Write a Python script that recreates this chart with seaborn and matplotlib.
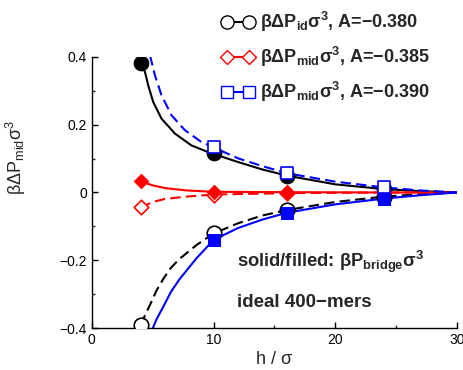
import numpy as np
import pandas as pd
import seaborn as sns
import matplotlib
import matplotlib.pyplot as plt
from matplotlib.lines import Line2D
from matplotlib.ticker import MultipleLocator, FuncFormatter

# Data
h_pts = [4, 10, 16, 24]
h_blue = [10, 16, 24]

bridge_380 = [0.382, 0.116, 0.050, 0.011]      # black filled
dp_id_380 = [-0.39, -0.121, -0.052, -0.012]    # black open
bridge_385 = [0.033, 0.002, 0.001, 0.0]        # red filled
dp_mid_385 = [-0.044, -0.006, -0.002, 0.0]     # red open
dp_mid_390 = [0.133, 0.057, 0.015]             # blue open
bridge_390 = [-0.140, -0.060, -0.018]          # blue filled

# smooth curves (read at several h)
h_k_solid = [4, 4.36, 4.63, 5.04, 5.72, 6.82, 8.18, 9.56, 12, 14, 16, 20, 24, 27, 30]
k_solid = [0.382, 0.356, 0.316, 0.267, 0.218, 0.174, 0.139, 0.119, 0.090, 0.068, 0.050, 0.024, 0.010, 0.004, 0.0]
h_k_dash = [4, 4.4, 4.8, 5.3, 5.9, 6.5, 7.2, 8.6, 10, 12, 14, 16, 20, 24, 27, 30]
k_dash = [-0.39, -0.36, -0.33, -0.29, -0.253, -0.222, -0.196, -0.155, -0.121, -0.091, -0.068, -0.052, -0.028, -0.012, -0.005, 0.0]
h_b_dash = [4.77, 5.18, 5.72, 6.54, 7.64, 9.0, 10, 12, 14, 16, 20, 24, 27, 30]
b_dash = [0.405, 0.346, 0.287, 0.228, 0.184, 0.149, 0.133, 0.101, 0.078, 0.057, 0.032, 0.015, 0.006, 0.0]
h_b_solid = [4.9, 5.3, 5.9, 6.5, 7.2, 8.6, 10, 12, 14, 16, 20, 24, 27, 30]
b_solid = [-0.41, -0.375, -0.335, -0.293, -0.256, -0.194, -0.140, -0.105, -0.080, -0.060, -0.035, -0.018, -0.008, 0.0]
h_r = [4, 5, 6, 7.8, 10, 13, 16, 20, 24, 30]
r_solid = [0.033, 0.021, 0.013, 0.006, 0.002, 0.0015, 0.001, 0.0005, 0.0, 0.0]
r_dash = [-0.044, -0.028, -0.019, -0.012, -0.006, -0.004, -0.002, -0.001, 0.0, 0.0]

labels = [r'βΔP$_\mathbf{id}$σ$^\mathbf{3}$, A=−0.380',
          r'βΔP$_\mathbf{mid}$σ$^\mathbf{3}$, A=−0.385',
          r'βΔP$_\mathbf{mid}$σ$^\mathbf{3}$, A=−0.390']

sns.set_style('ticks')
plt.rcParams['font.family'] = ['Liberation Sans', 'DejaVu Sans']
plt.rcParams['mathtext.fontset'] = 'custom'
plt.rcParams['mathtext.rm'] = 'Liberation Sans'
plt.rcParams['mathtext.it'] = 'Liberation Sans:italic'
plt.rcParams['mathtext.bf'] = 'Liberation Sans:bold'
plt.rcParams['axes.unicode_minus'] = True

fig = plt.figure(figsize=(4.64, 3.70), dpi=100)
ax = fig.add_axes([0.198, 0.1135, 0.787, 0.7325])

lw = 1.5
dash = (0, (5, 2.5))
sns.lineplot(x=h_k_solid, y=k_solid, color='black', lw=lw, ax=ax, zorder=2)
sns.lineplot(x=h_k_dash, y=k_dash, color='black', lw=lw, ax=ax, zorder=2, linestyle=dash)
sns.lineplot(x=h_r, y=r_solid, color='red', lw=lw, ax=ax, zorder=2)
sns.lineplot(x=h_r, y=r_dash, color='red', lw=lw, ax=ax, zorder=2, linestyle=dash)
sns.lineplot(x=h_b_dash, y=b_dash, color='blue', lw=lw, ax=ax, zorder=2, linestyle=dash)
sns.lineplot(x=h_b_solid, y=b_solid, color='blue', lw=lw, ax=ax, zorder=2)

sns.scatterplot(x=h_pts, y=bridge_380, color='black', edgecolor='black', marker='o', s=110, ax=ax, zorder=3)
sns.scatterplot(x=h_pts, y=dp_id_380, color='white', edgecolor='black', linewidth=1.2, marker='o', s=110, ax=ax, zorder=3)
sns.scatterplot(x=h_pts, y=dp_mid_385, color='white', edgecolor='red', linewidth=1.2, marker='D', s=55, ax=ax, zorder=3)
sns.scatterplot(x=h_pts, y=bridge_385, color='red', edgecolor='red', marker='D', s=55, ax=ax, zorder=3)
sns.scatterplot(x=h_blue, y=bridge_390, color='blue', edgecolor='blue', marker='s', s=85, ax=ax, zorder=4)
sns.scatterplot(x=h_blue, y=dp_mid_390, color='white', edgecolor='blue', linewidth=1.2, marker='s', s=85, ax=ax, zorder=4)

ax.set_xlim(0, 30)
ax.set_ylim(-0.4, 0.4)
ax.xaxis.set_major_locator(MultipleLocator(10))
ax.xaxis.set_minor_locator(MultipleLocator(5))
ax.yaxis.set_major_locator(MultipleLocator(0.2))
ax.yaxis.set_minor_locator(MultipleLocator(0.1))
ax.yaxis.set_major_formatter(FuncFormatter(lambda v, p: '0' if abs(v) < 1e-9 else ('%.1f' % v).replace('-', '−')))
ax.tick_params(which='major', direction='in', length=4, width=1, labelsize=10, colors='black')
ax.tick_params(which='minor', direction='in', length=2.5, width=1)
sns.despine(ax=ax)
for s in ['left', 'bottom']:
    ax.spines[s].set_color('black')
    ax.spines[s].set_linewidth(1)

ax.set_xlabel('h / σ', fontsize=13, labelpad=3)
ax.set_ylabel(r'βΔP$_\mathrm{mid}$σ$^3$', fontsize=13)
ax.yaxis.set_label_coords(-0.175, 0.63)

ax.text(11.9, -0.205, r'solid/filled: βP$_\mathbf{bridge}$σ$^\mathbf{3}$', fontsize=13.2, fontweight='bold', va='center')
ax.text(11.9, -0.326, 'ideal 400−mers', fontsize=13.5, fontweight='bold', va='center')

handles = [
    Line2D([], [], color='black', lw=1.5, marker='o', ms=9.5, mfc='white', mec='black'),
    Line2D([], [], color='red', lw=1.5, marker='D', ms=7, mfc='white', mec='red'),
    Line2D([], [], color='blue', lw=1.5, marker='s', ms=8.5, mfc='white', mec='blue'),
]
fig.legend(handles, labels, loc='upper left', bbox_to_anchor=(0.443, 1.016), frameon=False,
           numpoints=2, handlelength=1.8, handletextpad=0.3, labelspacing=0.6,
           prop={'weight': 'bold', 'size': 13})

fig.savefig('out.png', dpi=100)
